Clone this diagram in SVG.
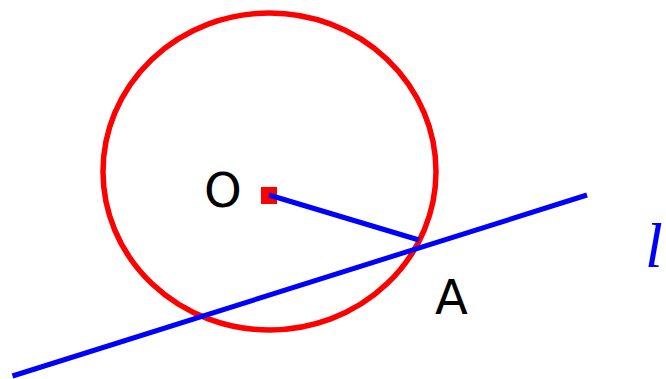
<svg xmlns="http://www.w3.org/2000/svg" width="666" height="379" viewBox="0 0 666 379">
<style>
.red{fill:none;stroke:#ff0000;stroke-width:5.5}
.blue{stroke:#0000ff;stroke-width:5;fill:none}
.lbl{font-family:"DejaVu Sans",sans-serif;font-size:48px;fill:#000}
.ital{font-family:"Liberation Serif",serif;font-style:italic;font-size:64px;fill:#0000ff}
</style>
<g id="circle"><ellipse class="red" cx="269.5" cy="171.5" rx="166.5" ry="158.5"/></g>
<g id="center"><rect x="261" y="187" width="16" height="17" fill="#ff0000"/></g>
<g id="connectors">
<line class="blue" x1="12.5" y1="376" x2="587" y2="195"/>
<line class="blue" x1="269" y1="195" x2="419" y2="240"/>
</g>
<g id="labelO"><text class="lbl" x="204" y="206.5">O</text></g>
<g id="labelA"><text class="lbl" x="435" y="314">A</text></g>
<g id="labell"><text class="ital" x="645" y="267">l</text></g>
</svg>
